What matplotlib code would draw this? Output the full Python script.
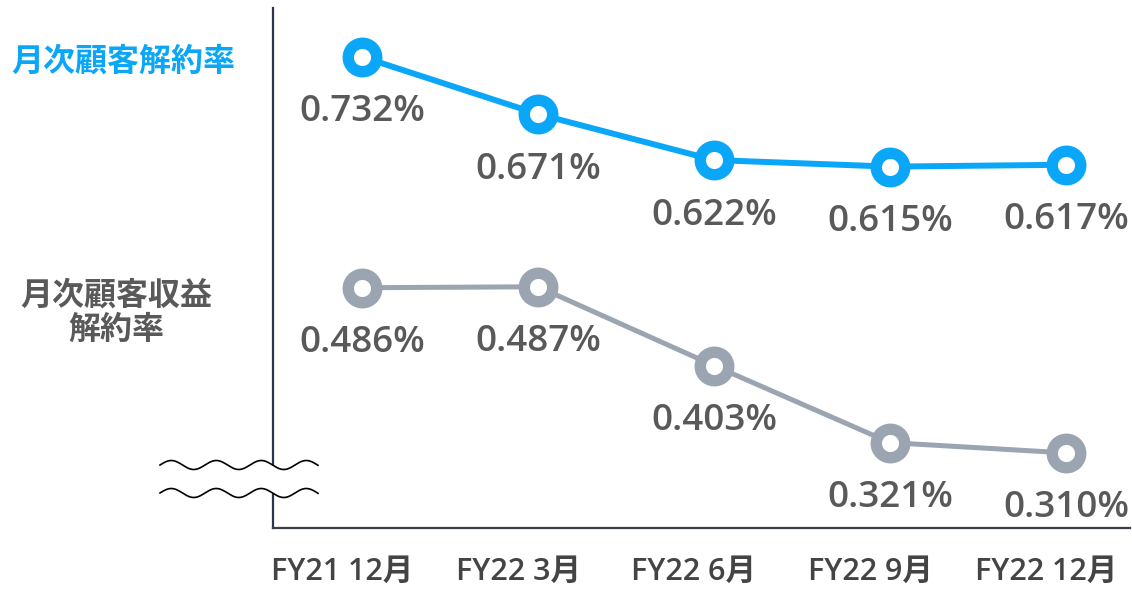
import numpy as np
import matplotlib
matplotlib.use("Agg")
import matplotlib.pyplot as plt
import matplotlib.transforms as mtransforms

# chart data
periods = ["FY21 12月", "FY22 3月", "FY22 6月", "FY22 9月", "FY22 12月"]
churn_customer = [0.732, 0.671, 0.622, 0.615, 0.617]
churn_revenue = [0.486, 0.487, 0.403, 0.321, 0.310]

blue = "#0AA6F8"
grey_line = "#9BA4B1"
text_grey = "#595959"
axis_col = "#2E3350"

plt.rcParams['font.family'] = ['Open Sans', 'Noto Sans CJK JP', 'DejaVu Sans']

W, H = 1132, 589
fig = plt.figure(figsize=(W / 100, H / 100), dpi=100)
ax = fig.add_axes([273 / W, 1 - 528 / H, (1130 - 273) / W, (528 - 8) / H])

x = np.arange(len(periods))
for vals, col, lw in [(churn_customer, blue, 4.3), (churn_revenue, grey_line, 3.6)]:
    ax.plot(x, vals, color=col, lw=lw, marker='o', ms=20.5, mew=8.2,
            mfc='white', mec=col, zorder=3, clip_on=False)
    for xi, v in zip(x, vals):
        ax.annotate(f"{v:.3f}%", (xi, v), xytext=(0, -40), textcoords='offset points',
                    ha='center', va='center', fontsize=26.5, color=text_grey,
                    fontweight='semibold')

ax.set_xlim(-0.506, 4.364)
ax.set_ylim(0.230, 0.784)
ax.set_yticks([])
ax.set_xticks(x)
ax.set_xticklabels(periods, fontsize=22, color='#444444',
                   family=['Open Sans', 'Noto Sans CJK JP'], fontweight='semibold')
ax.tick_params(axis='x', length=0, pad=21)
# labels sit a little left of the points in the original
shift = mtransforms.ScaledTranslation(-20 / 100, 0, fig.dpi_scale_trans)
for lbl in ax.get_xticklabels():
    lbl.set_transform(lbl.get_transform() + shift)
for s in ['top', 'right']:
    ax.spines[s].set_visible(False)
ax.spines['left'].set_color(axis_col)
ax.spines['bottom'].set_color('#3a3d4a')
ax.spines['left'].set_linewidth(1.6)
ax.spines['bottom'].set_linewidth(1.6)

# side labels
fig.text(123 / W, 1 - 62 / H, "月次顧客解約率", ha='center', va='center', fontsize=23,
         fontweight='bold', color=blue, family=['Noto Sans CJK JP'])
fig.text(116 / W, 1 - 313 / H, "月次顧客収益\n解約率", ha='center', va='center', fontsize=23,
         fontweight='bold', color=text_grey, family=['Noto Sans CJK JP'],
         linespacing=1.1)

# axis break marks
ov = fig.add_axes([0, 0, 1, 1], zorder=5)
ov.set_xlim(0, W)
ov.set_ylim(H, 0)
ov.axis('off')
wx = np.linspace(160, 318, 300)
wave = 4.5 * np.sin((wx - 160) / 45 * 2 * np.pi + np.pi)
ov.fill_between(wx, 465 + wave, 493 + wave, color='white', lw=0)
ov.plot(wx, 465 + wave, color='black', lw=1.2)
ov.plot(wx, 493 + wave, color='black', lw=1.2)

fig.savefig("out.png", dpi=100)
